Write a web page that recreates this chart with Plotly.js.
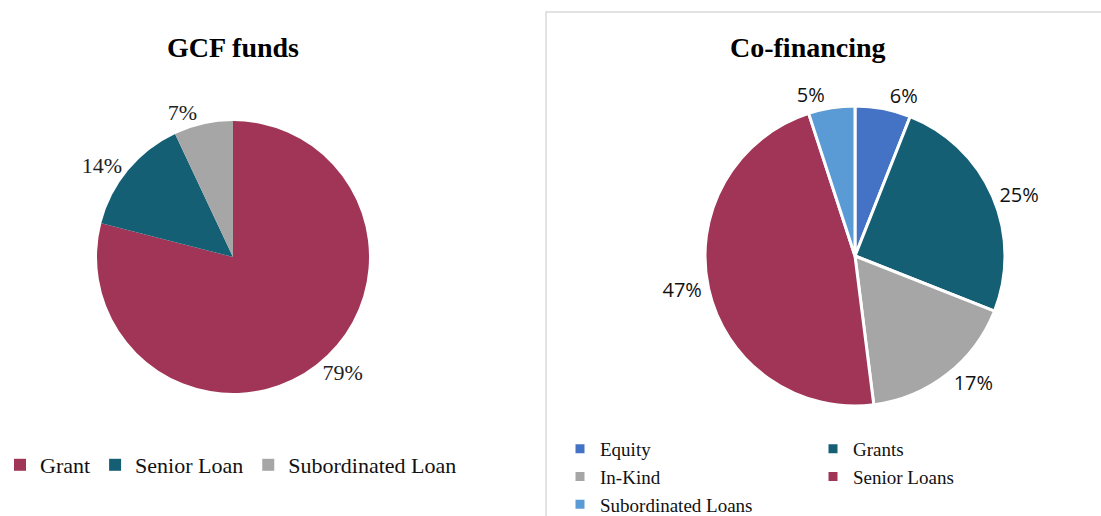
<!DOCTYPE html>
<html>
<head>
<meta charset="utf-8">
<script src="https://cdn.plot.ly/plotly-3.0.1.min.js"></script>
<style>
html,body{margin:0;padding:0;background:#fff;}
#wrap{position:relative;width:1101px;height:516px;overflow:hidden;}
#left{position:absolute;left:0;top:0;width:545px;height:516px;}
#right{position:absolute;left:545px;top:0;width:556px;height:516px;}
</style>
</head>
<body>
<div id="wrap"><div id="left"></div><div id="right"></div></div>
<script>
// GCF funds
const gcfLabels = ["Grant", "Senior Loan", "Subordinated Loan"];
const gcfValues = [79, 14, 7];
const gcfColors = ["#A13557", "#155F74", "#A6A6A6"];

// Co-financing
const coLabels = ["Equity", "Grants", "In-Kind", "Senior Loans", "Subordinated Loans"];
const coValues = [6, 25, 17, 47, 5];
const coColors = ["#4472C4", "#155F74", "#A6A6A6", "#A13557", "#5B9BD5"];

const titles = ["GCF funds", "Co-financing"];

const serif = "Liberation Serif, Times New Roman, serif";
const sans = "Open Sans, Liberation Sans, sans-serif";

const H = 516;
const LW = 545, RW = 556;
const py = v => 1 - v / H;

// ---------- Left chart ----------
const lx = v => v / LW;
const leftTrace = {
  type: "pie",
  labels: gcfLabels,
  values: gcfValues,
  sort: false,
  direction: "clockwise",
  rotation: 0,
  marker: {colors: gcfColors, line: {color: "#ffffff", width: 0}},
  texttemplate: "%{percent:.0%}",
  textposition: "outside",
  textfont: {family: serif, size: 22, color: "#222"},
  domain: {x: [lx(97), lx(369)], y: [py(393), py(121)]},
  hoverinfo: "label+percent"
};
const leftLayout = {
  width: LW, height: H,
  margin: {l: 0, r: 0, t: 0, b: 0, autoexpand: false},
  paper_bgcolor: "#ffffff",
  showlegend: true,
  legend: {
    orientation: "h",
    xref: "container", yref: "container",
    x: 0, xanchor: "left",
    y: py(444), yanchor: "top",
    font: {family: serif, size: 22, color: "#111"},
    itemwidth: 30,
    traceorder: "normal",
    bgcolor: "rgba(0,0,0,0)"
  },
  annotations: [
    {text: "<b>" + titles[0] + "</b>", xref: "paper", yref: "paper", x: lx(233), y: py(48),
     xanchor: "center", yanchor: "middle", showarrow: false,
     font: {family: serif, size: 28, color: "#000"}}
  ]
};

// ---------- Right chart ----------
const rx = v => (v - LW) / RW;
const rightTrace = {
  type: "pie",
  labels: coLabels,
  values: coValues,
  sort: false,
  direction: "clockwise",
  rotation: 0,
  marker: {colors: coColors, line: {color: "#ffffff", width: 3}},
  texttemplate: "%{percent:.0%}",
  textposition: "outside",
  textfont: {family: sans, size: 20, color: "#111"},
  domain: {x: [rx(705), rx(1005)], y: [py(406), py(106)]},
  hoverinfo: "label+percent"
};
const rightLayout = {
  width: RW, height: H,
  margin: {l: 0, r: 0, t: 0, b: 0, autoexpand: false},
  paper_bgcolor: "#ffffff",
  showlegend: true,
  legend: {
    orientation: "h",
    xref: "container", yref: "container",
    x: rx(560), xanchor: "left",
    y: py(430), yanchor: "top",
    font: {family: serif, size: 19, color: "#111"},
    itemwidth: 30,
    entrywidth: 208,
    traceorder: "normal",
    bgcolor: "rgba(0,0,0,0)"
  },
  annotations: [
    {text: "<b>" + titles[1] + "</b>", xref: "paper", yref: "paper", x: rx(808), y: py(48),
     xanchor: "center", yanchor: "middle", showarrow: false,
     font: {family: serif, size: 28, color: "#000"}}
  ],
  shapes: [
    {type: "rect", xref: "paper", yref: "paper", x0: rx(546), x1: 1.05, y0: -0.05, y1: py(12),
     line: {color: "#D9D9D9", width: 1.5}, fillcolor: "rgba(0,0,0,0)", layer: "below"}
  ]
};

const cfg = {staticPlot: true, displayModeBar: false};
Plotly.newPlot("left", [leftTrace], leftLayout, cfg);
Plotly.newPlot("right", [rightTrace], rightLayout, cfg);
</script>
</body>
</html>
